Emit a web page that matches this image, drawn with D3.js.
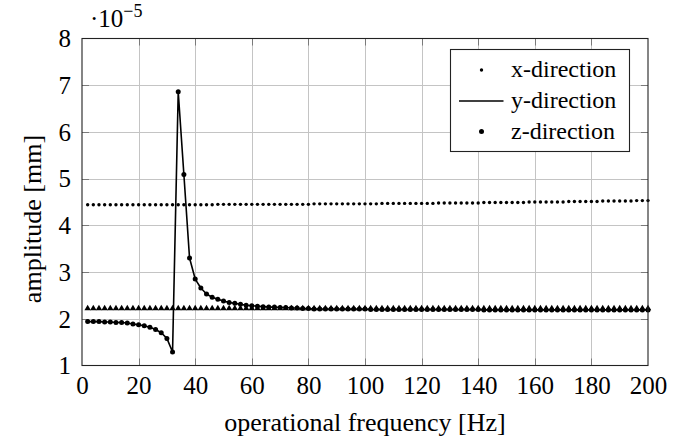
<!DOCTYPE html>
<html>
<head>
<meta charset="utf-8">
<script src="https://cdn.jsdelivr.net/npm/d3@7"></script>
<style>
  html, body { margin: 0; padding: 0; background: #fff; }
</style>
</head>
<body>
<svg id="chart" width="682" height="444"></svg>
<script>
// Operational frequency [Hz], sampled every 2 Hz
const frequency = [
  2, 4, 6, 8, 10, 12, 14, 16, 18, 20, 22, 24, 26, 28, 30, 32, 34, 36, 38, 40,
  42, 44, 46, 48, 50, 52, 54, 56, 58, 60, 62, 64, 66, 68, 70, 72, 74, 76, 78, 80,
  82, 84, 86, 88, 90, 92, 94, 96, 98, 100, 102, 104, 106, 108, 110, 112, 114, 116, 118, 120,
  122, 124, 126, 128, 130, 132, 134, 136, 138, 140, 142, 144, 146, 148, 150, 152, 154, 156, 158, 160,
  162, 164, 166, 168, 170, 172, 174, 176, 178, 180, 182, 184, 186, 188, 190, 192, 194, 196, 198, 200
];

// Amplitudes in units of 1e-5 mm
const xDirection = [
  4.44, 4.44, 4.44, 4.44, 4.44, 4.44, 4.44, 4.44, 4.44, 4.44, 4.44, 4.44, 4.44, 4.44, 4.44, 4.44, 4.44, 4.44, 4.44, 4.44,
  4.44, 4.44, 4.44, 4.45, 4.45, 4.45, 4.45, 4.45, 4.45, 4.45, 4.45, 4.45, 4.45, 4.45, 4.45, 4.45, 4.45, 4.45, 4.45, 4.45,
  4.46, 4.46, 4.46, 4.46, 4.46, 4.46, 4.46, 4.46, 4.46, 4.46, 4.46, 4.46, 4.47, 4.47, 4.47, 4.47, 4.47, 4.47, 4.47, 4.47,
  4.47, 4.47, 4.48, 4.48, 4.48, 4.48, 4.48, 4.48, 4.48, 4.48, 4.49, 4.49, 4.49, 4.49, 4.49, 4.49, 4.49, 4.49, 4.50, 4.50,
  4.50, 4.50, 4.50, 4.50, 4.50, 4.51, 4.51, 4.51, 4.51, 4.51, 4.51, 4.52, 4.52, 4.52, 4.52, 4.52, 4.52, 4.53, 4.53, 4.53
];

const yDirection = [
  1.94, 1.94, 1.94, 1.93, 1.93, 1.92, 1.92, 1.91, 1.89, 1.87, 1.85, 1.82, 1.77, 1.70, 1.58, 1.29, 6.86, 5.09, 3.30, 2.85,
  2.66, 2.53, 2.46, 2.42, 2.38, 2.35, 2.33, 2.31, 2.29, 2.28, 2.27, 2.26, 2.25, 2.25, 2.24, 2.24, 2.23, 2.23, 2.22, 2.22,
  2.21, 2.21, 2.21, 2.21, 2.21, 2.21, 2.21, 2.21, 2.21, 2.21, 2.20, 2.20, 2.20, 2.20, 2.20, 2.20, 2.20, 2.20, 2.20, 2.20,
  2.20, 2.20, 2.20, 2.20, 2.20, 2.20, 2.20, 2.20, 2.20, 2.20, 2.19, 2.19, 2.19, 2.19, 2.19, 2.19, 2.19, 2.19, 2.19, 2.19,
  2.19, 2.19, 2.19, 2.19, 2.19, 2.19, 2.19, 2.19, 2.19, 2.19, 2.19, 2.19, 2.19, 2.19, 2.19, 2.19, 2.19, 2.19, 2.19, 2.19
];

const triangleSeries = [
  2.22, 2.22, 2.22, 2.22, 2.22, 2.22, 2.22, 2.22, 2.22, 2.22, 2.22, 2.22, 2.22, 2.22, 2.22, 2.22, 2.22, 2.22, 2.22, 2.22,
  2.22, 2.22, 2.22, 2.22, 2.22, 2.22, 2.22, 2.22, 2.22, 2.22, 2.22, 2.22, 2.22, 2.22, 2.22, 2.22, 2.22, 2.22, 2.22, 2.22,
  2.22, 2.22, 2.22, 2.22, 2.22, 2.22, 2.22, 2.22, 2.22, 2.22, 2.22, 2.22, 2.22, 2.22, 2.22, 2.22, 2.22, 2.22, 2.22, 2.22,
  2.22, 2.22, 2.22, 2.22, 2.22, 2.22, 2.22, 2.22, 2.22, 2.22, 2.22, 2.22, 2.22, 2.22, 2.22, 2.22, 2.22, 2.22, 2.22, 2.22,
  2.22, 2.22, 2.22, 2.22, 2.22, 2.22, 2.22, 2.22, 2.22, 2.22, 2.22, 2.22, 2.22, 2.22, 2.22, 2.22, 2.22, 2.22, 2.22, 2.22
];

const xTicks = [0, 20, 40, 60, 80, 100, 120, 140, 160, 180, 200];
const yTicks = [1, 2, 3, 4, 5, 6, 7, 8];
const legendLabels = ["x-direction", "y-direction", "z-direction"];

const FONT = "'Liberation Serif', 'DejaVu Serif', 'Times New Roman', Times, serif";
const tickSize = 25;
const titleSize = 26;
const legendSize = 24;

const svg = d3.select("#chart");
const plot = { left: 82, right: 648, top: 38.5, bottom: 365.5 };

const x = d3.scaleLinear().domain([0, 200]).range([plot.left, plot.right]);
const y = d3.scaleLinear().domain([1, 8]).range([plot.bottom, plot.top]);

// Grid lines
const grid = svg.append("g").attr("stroke", "#c4c4c4").attr("stroke-width", 1);
grid.selectAll("line.gx").data(xTicks.slice(1, -1)).join("line")
  .attr("x1", d => Math.round(x(d)) + 0.5).attr("x2", d => Math.round(x(d)) + 0.5)
  .attr("y1", plot.top).attr("y2", plot.bottom);
grid.selectAll("line.gy").data(yTicks.slice(1, -1)).join("line")
  .attr("y1", d => Math.round(y(d)) + 0.5).attr("y2", d => Math.round(y(d)) + 0.5)
  .attr("x1", plot.left).attr("x2", plot.right);

// Inward ticks on all four sides
const tickLen = 7;
const tickG = svg.append("g").attr("stroke", "#7a7a7a").attr("stroke-width", 1);
xTicks.slice(1, -1).forEach(d => {
  const px = Math.round(x(d)) + 0.5;
  tickG.append("line").attr("x1", px).attr("x2", px).attr("y1", plot.bottom).attr("y2", plot.bottom - tickLen);
  tickG.append("line").attr("x1", px).attr("x2", px).attr("y1", plot.top).attr("y2", plot.top + tickLen);
});
yTicks.slice(1, -1).forEach(d => {
  const py = Math.round(y(d)) + 0.5;
  tickG.append("line").attr("y1", py).attr("y2", py).attr("x1", plot.left).attr("x2", plot.left + tickLen);
  tickG.append("line").attr("y1", py).attr("y2", py).attr("x1", plot.right).attr("x2", plot.right - tickLen);
});

// Tick labels via d3 axes (domain and tick lines hidden)
const xAxis = svg.append("g")
  .attr("transform", `translate(0,${plot.bottom})`)
  .call(d3.axisBottom(x).tickValues(xTicks).tickSize(0).tickPadding(0).tickFormat(d3.format("d")))
  .attr("font-family", FONT).attr("font-size", tickSize);
xAxis.select(".domain").remove();
xAxis.selectAll("text").attr("y", 28.5).attr("dy", null).attr("fill", "#000");

const yAxis = svg.append("g")
  .attr("transform", `translate(${plot.left},0)`)
  .call(d3.axisLeft(y).tickValues(yTicks).tickSize(0).tickPadding(0).tickFormat(d3.format("d")))
  .attr("font-family", FONT).attr("font-size", tickSize);
yAxis.select(".domain").remove();
yAxis.selectAll("text").attr("x", -11).attr("dy", "0.33em").attr("fill", "#000");

// Series
const pts = frequency.map((f, i) => ({ f, xd: xDirection[i], yd: yDirection[i], tr: triangleSeries[i] }));

const tri = d3.symbol().type(d3.symbolTriangle).size(18);
svg.append("g").selectAll("path").data(pts).join("path")
  .attr("d", tri)
  .attr("transform", d => `translate(${x(d.f)},${y(d.tr)})`)
  .attr("fill", "#000");

svg.append("g").selectAll("circle").data(pts).join("circle")
  .attr("cx", d => x(d.f)).attr("cy", d => y(d.xd)).attr("r", 1.7).attr("fill", "#000");

svg.append("path").datum(pts)
  .attr("fill", "none").attr("stroke", "#000").attr("stroke-width", 1.6)
  .attr("stroke-linejoin", "round")
  .attr("d", d3.line().x(d => x(d.f)).y(d => y(d.yd)));

svg.append("g").selectAll("circle").data(pts).join("circle")
  .attr("cx", d => x(d.f)).attr("cy", d => y(d.yd)).attr("r", 2.5).attr("fill", "#000");

// Frame
svg.append("rect")
  .attr("x", plot.left).attr("y", plot.top)
  .attr("width", plot.right - plot.left).attr("height", plot.bottom - plot.top)
  .attr("fill", "none").attr("stroke", "#222").attr("stroke-width", 1.1);

const txt = (sel, size) => sel.attr("font-family", FONT).attr("font-size", size).attr("fill", "#000");

// Axis titles
svg.append("text").call(txt, titleSize)
  .attr("x", (plot.left + plot.right) / 2).attr("y", 431)
  .attr("text-anchor", "middle")
  .text("operational frequency [Hz]");

svg.append("text").call(txt, titleSize)
  .attr("transform", "translate(41,219) rotate(-90)")
  .attr("text-anchor", "middle")
  .text("amplitude [mm]");

// Scale factor above the axis
const sf = svg.append("text").call(txt, tickSize).attr("x", 90).attr("y", 27);
sf.append("tspan").text("·10");
sf.append("tspan").attr("dy", -10).attr("font-size", 18).text("−5");

// Legend
const lg = svg.append("g");
lg.append("rect").attr("x", 450.5).attr("y", 49.5).attr("width", 179).attr("height", 102)
  .attr("fill", "#fff").attr("stroke", "#222").attr("stroke-width", 1.1);
const rowY = [70, 101, 131.5];
lg.append("circle").attr("cx", 481.5).attr("cy", rowY[0]).attr("r", 1.7).attr("fill", "#000");
lg.append("line").attr("x1", 459).attr("x2", 503.5).attr("y1", rowY[1]).attr("y2", rowY[1])
  .attr("stroke", "#000").attr("stroke-width", 1.6);
lg.append("circle").attr("cx", 481.5).attr("cy", rowY[2]).attr("r", 2.5).attr("fill", "#000");
lg.selectAll("text.lt").data(legendLabels).join("text").call(txt, legendSize)
  .attr("x", 511).attr("y", (d, i) => rowY[i]).attr("dy", "0.3em")
  .text(d => d);
</script>
</body>
</html>
